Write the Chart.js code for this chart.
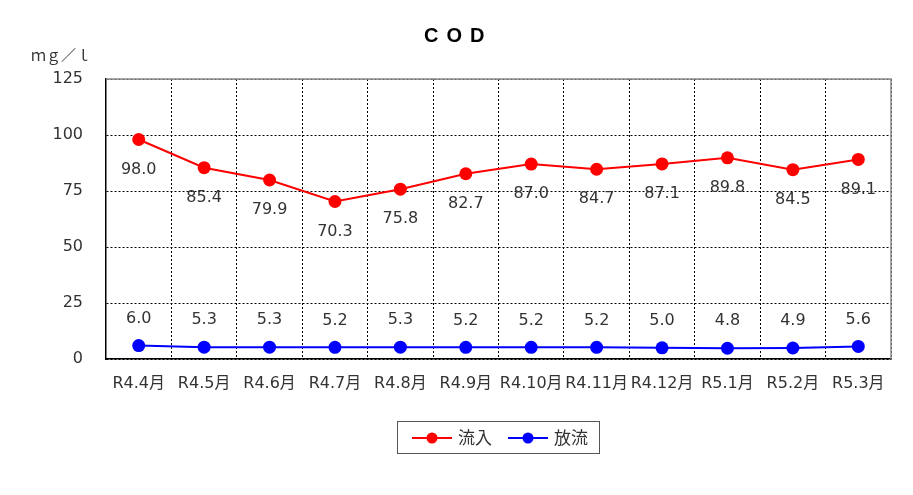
<!DOCTYPE html>
<html><head><meta charset="utf-8">
<script src="https://cdn.jsdelivr.net/npm/chart.js@4/dist/chart.umd.min.js"></script>
<style>html,body{margin:0;padding:0;background:#fff;overflow:hidden}</style>
</head><body>
<canvas id="c" width="913" height="495"></canvas>
<script>
const categories = ['R4.4月','R4.5月','R4.6月','R4.7月','R4.8月','R4.9月','R4.10月','R4.11月','R4.12月','R5.1月','R5.2月','R5.3月'];
const inflow = [98.0, 85.4, 79.9, 70.3, 75.8, 82.7, 87.0, 84.7, 87.1, 89.8, 84.5, 89.1];
const outflow = [6.0, 5.3, 5.3, 5.2, 5.3, 5.2, 5.2, 5.2, 5.0, 4.8, 4.9, 5.6];
const yTicks = [0, 25, 50, 75, 100, 125];
const seriesNames = ['流入', '放流'];
const seriesColors = ['#ff0000', '#0000ff'];
const titleText = 'COD';
const unitText = 'ｍｇ／ｌ';

const FONT = '"DejaVu Sans", "Noto Sans CJK JP", sans-serif';
const CJK = '"Noto Sans CJK JP", sans-serif';

const decor = {
  id: 'decor',
  afterDatasetsDraw(chart) {
    const ctx = chart.ctx;
    ctx.save();
    ctx.font = '16px ' + FONT;
    ctx.fillStyle = '#333';
    ctx.textAlign = 'center';
    ctx.textBaseline = 'middle';
    chart.data.datasets.forEach((ds, i) => {
      const meta = chart.getDatasetMeta(i);
      meta.data.forEach((pt, j) => {
        const off = i === 0 ? 30 : -27;
        ctx.fillText(ds.data[j].toFixed(1), pt.x, pt.y + off);
      });
    });
    ctx.restore();
  },
  afterDraw(chart) {
    const ctx = chart.ctx;
    const a = chart.chartArea;
    ctx.save();
    // top/right frame
    ctx.strokeStyle = '#8c8c8c';
    ctx.lineWidth = 1.5;
    ctx.beginPath();
    ctx.moveTo(a.left, a.top);
    ctx.lineTo(a.right, a.top);
    ctx.lineTo(a.right, a.bottom);
    ctx.stroke();
    // title
    ctx.fillStyle = '#000';
    ctx.font = 'bold 20px "Liberation Sans", sans-serif';
    ctx.textBaseline = 'middle';
    ctx.textAlign = 'left';
    ctx.letterSpacing = '8px';
    ctx.fillText(titleText, 424, 36);
    ctx.letterSpacing = '0px';
    // unit
    ctx.fillStyle = '#333';
    ctx.font = '15px ' + CJK;
    ctx.fillText(unitText, 31, 55);
    // legend
    const bx = 397.5, by = 421.5, bw = 202, bh = 32;
    ctx.fillStyle = '#fff';
    ctx.fillRect(bx, by, bw, bh);
    ctx.strokeStyle = '#555';
    ctx.lineWidth = 1;
    ctx.strokeRect(bx, by, bw, bh);
    const cy = 438;
    const items = [{x: 412}, {x: 508}];
    chart.data.datasets.forEach((ds, i) => {
      const x0 = items[i].x;
      ctx.strokeStyle = ds.borderColor;
      ctx.lineWidth = 2;
      ctx.beginPath();
      ctx.moveTo(x0, cy);
      ctx.lineTo(x0 + 40, cy);
      ctx.stroke();
      ctx.fillStyle = ds.backgroundColor;
      ctx.beginPath();
      ctx.arc(x0 + 20, cy, 5.5, 0, Math.PI * 2);
      ctx.fill();
      ctx.fillStyle = '#333';
      ctx.font = '17px ' + CJK;
      ctx.textAlign = 'left';
      ctx.fillText(ds.label, x0 + 46, cy);
    });
    ctx.restore();
  }
};

new Chart(document.getElementById('c'), {
  type: 'line',
  data: {
    labels: categories,
    datasets: [
      { label: seriesNames[0], data: inflow, borderColor: seriesColors[0], backgroundColor: seriesColors[0],
        borderWidth: 2, pointRadius: 6.5, pointBorderWidth: 0, pointHoverRadius: 6.5, tension: 0 },
      { label: seriesNames[1], data: outflow, borderColor: seriesColors[1], backgroundColor: seriesColors[1],
        borderWidth: 2, pointRadius: 6.5, pointBorderWidth: 0, pointHoverRadius: 6.5, tension: 0 }
    ]
  },
  options: {
    responsive: false,
    animation: false,
    devicePixelRatio: 1,
    layout: { padding: { top: 79, right: 22, left: 0, bottom: 0 } },
    plugins: { legend: { display: false }, title: { display: false }, tooltip: { enabled: false } },
    scales: {
      x: {
        offset: true,
        grid: { offset: true, color: '#000', lineWidth: 1, drawTicks: false },
        border: { display: true, color: '#000', width: 1.5, dash: [2, 2] },
        ticks: { color: '#333', font: { family: FONT, size: 16 }, padding: 15, maxRotation: 0, autoSkip: false },
        afterFit(s) { s.height = 136; }
      },
      y: {
        min: 0, max: 125,
        afterBuildTicks(s) { s.ticks = yTicks.map(v => ({ value: v })); },
        grid: { color: '#000', lineWidth: 1, drawTicks: false },
        border: { display: true, color: '#000', width: 1.5, dash: [2, 2] },
        ticks: { color: '#333', font: { family: FONT, size: 16 }, padding: 23 },
        afterFit(s) { s.width = 106; }
      }
    }
  },
  plugins: [decor]
});
</script>
</body></html>
